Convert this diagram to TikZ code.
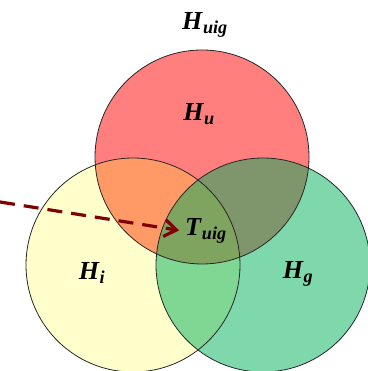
\documentclass[tikz,border=0pt]{standalone}
\usepackage{fontspec}
\setmainfont{Liberation Serif}
\usepackage{tikz}
\usetikzlibrary{arrows.meta}
\definecolor{setred}{RGB}{255, 0, 0}
\definecolor{setyellow}{RGB}{255, 255, 0}
\definecolor{setgreen}{RGB}{0, 175, 90}
\definecolor{arrowred}{RGB}{128, 0, 0}
\newcommand{\setlbl}[2]{\textbf{\textit{#1}}\textsubscript{\textbf{\textit{#2}}}}

\begin{document}
\begin{tikzpicture}[x=1pt, y=1pt, >=Stealth,
    setcircle/.style={draw=black!85, line width=0.8pt},
    setlabel/.style={font=\fontsize{26}{30}\selectfont, inner sep=2pt}]
    \useasboundingbox (0,0) rectangle (367,371);

    \coordinate (U) at (202,214);
    \coordinate (I) at (133,106);
    \coordinate (G) at (263,106);
    \coordinate (src) at (0,169);

    % the three sets
    \fill[setred, fill opacity=0.5] (U) circle (107);
    \fill[setyellow, fill opacity=0.2] (I) circle (107);
    \fill[setgreen, fill opacity=0.5] (G) circle (107);
    \draw[setcircle] (U) circle (107);
    \draw[setcircle] (I) circle (107);
    \draw[setcircle] (G) circle (107);

    \node[setlabel] (Huig) at (205,346) {\setlbl{H}{uig}};
    \node[setlabel] (Hu) at (199,257) {\setlbl{H}{u}};
    \node[setlabel] (Hi) at (92,98) {\setlbl{H}{i}};
    \node[setlabel] (Hg) at (298,97) {\setlbl{H}{g}};
    \node[setlabel] (Tuig) at (206,140) {\setlbl{T}{uig}};

    \draw[->, arrowred, line width=3.2pt, dash pattern=on 15pt off 9pt,
        arrows={-Straight Barb[length=12pt, width=17pt]}, shorten >=4pt]
        (src) -- (Tuig.west);
\end{tikzpicture}
\end{document}
